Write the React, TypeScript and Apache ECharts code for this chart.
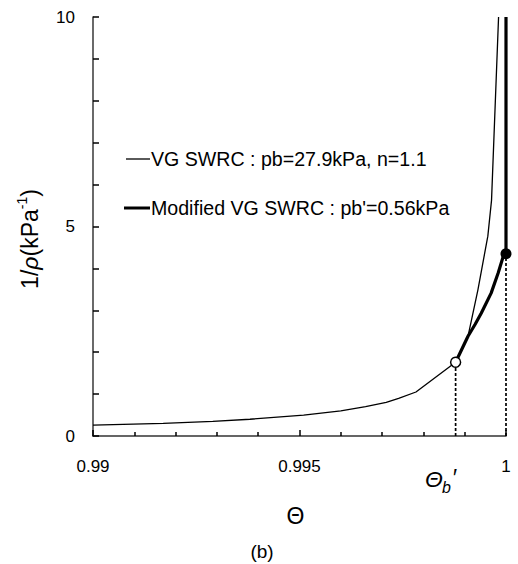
import React, { useEffect, useRef } from "react";
import * as echarts from "echarts";

// VG SWRC curve (pb = 27.9 kPa, n = 1.1): [Θ, 1/ρ]
const vgTheta = [0.99, 0.9917, 0.9929, 0.9938, 0.9951, 0.996, 0.9966, 0.9971, 0.9974, 0.99782, 0.99878, 0.99908, 0.99932, 0.99956, 0.99965, 0.99982];
const vgValue = [0.26, 0.3, 0.35, 0.4, 0.5, 0.6, 0.7, 0.8, 0.9, 1.05, 1.76, 2.38, 3.49, 4.77, 5.63, 10];

// Modified VG SWRC (pb' = 0.56 kPa)
const modTheta = [0.99878, 0.99908, 0.99925, 0.9994, 0.99964, 0.99981, 0.99995, 1.0, 1.0];
const modValue = [1.76, 2.38, 2.66, 2.93, 3.41, 3.89, 4.34, 4.35, 10];

// Key points: Θb' (open circle) and Θ = 1 (filled dot)
const thetaB = 0.99878;
const valueB = 1.76;
const thetaEnd = 1.0;
const valueEnd = 4.35;

const xTicks = { min: 0.99, max: 1, interval: 0.005 };
const yTicks = { min: 0, max: 10, interval: 5 };

const legendLabels = ["VG SWRC : pb=27.9kPa, n=1.1", "Modified VG SWRC : pb'=0.56kPa"];

const FONT = "'Liberation Sans', Arial, Helvetica, sans-serif";

export default function App() {
  const ref = useRef<HTMLDivElement>(null);

  useEffect(() => {
    if (!ref.current) return;
    const chart = echarts.init(ref.current, undefined, { renderer: "svg" });
    const vgData = vgTheta.map((t, i) => [t, vgValue[i]]);
    const modData = modTheta.map((t, i) => [t, modValue[i]]);

    chart.setOption({
      animation: false,
      grid: { left: 93, right: 12, top: 17, bottom: 128 },
      xAxis: {
        type: "value",
        min: xTicks.min,
        max: xTicks.max,
        interval: xTicks.interval,
        name: "Θ",
        nameLocation: "middle",
        nameGap: 68,
        nameTextStyle: { fontSize: 23, color: "#000", fontFamily: FONT, padding: [0, 8, 0, 0] },
        axisLine: { show: true, lineStyle: { color: "#333", width: 1.6 } },
        axisTick: { show: true, inside: true, length: 6, lineStyle: { color: "#000", width: 1.5 } },
        minorTick: { show: true, splitNumber: 5, length: 4, lineStyle: { color: "#000", width: 1.5 } },
        splitLine: { show: false },
        axisLabel: {
          fontSize: 17,
          color: "#000",
          fontFamily: FONT,
          margin: 22,
          formatter: (v: number) => String(Math.round(v * 1000) / 1000),
        },
      },
      yAxis: {
        type: "value",
        min: yTicks.min,
        max: yTicks.max,
        interval: yTicks.interval,
        axisLine: { show: true, lineStyle: { color: "#444", width: 1.6 } },
        axisTick: { show: true, inside: true, length: 6, lineStyle: { color: "#000", width: 1.5 } },
        minorTick: { show: true, splitNumber: 5, length: 6, lineStyle: { color: "#000", width: 1.5 } },
        splitLine: { show: false },
        axisLabel: { fontSize: 17, color: "#000", fontFamily: FONT, margin: 18 },
      },
      series: [
        {
          type: "line",
          data: [[thetaB, 0], [thetaB, valueB]],
          symbol: "none",
          clip: false,
          lineStyle: { color: "#000", width: 1.7, type: [3, 2] },
          z: 1,
        },
        {
          type: "line",
          data: [[thetaEnd, 0], [thetaEnd, valueEnd]],
          symbol: "none",
          clip: false,
          lineStyle: { color: "#000", width: 1.7, type: [3, 2] },
          z: 1,
        },
        {
          name: legendLabels[0],
          type: "line",
          data: vgData,
          symbol: "none",
          clip: false,
          lineStyle: { color: "#000", width: 1.3 },
          z: 2,
        },
        {
          name: legendLabels[1],
          type: "line",
          data: modData,
          symbol: "none",
          clip: false,
          lineStyle: { color: "#000", width: 3.2, cap: "butt" },
          z: 3,
        },
        {
          type: "scatter",
          clip: false,
          z: 5,
          itemStyle: { opacity: 1 },
          data: [
            { value: [thetaB, valueB], symbolSize: 10, itemStyle: { color: "#fff", borderColor: "#000", borderWidth: 1.5, opacity: 1 } },
            { value: [thetaEnd, valueEnd], symbolSize: 11, itemStyle: { color: "#000", opacity: 1 } },
          ],
        },
      ],
      graphic: [
        { type: "line", shape: { x1: 126, y1: 159, x2: 150, y2: 159 }, style: { stroke: "#000", lineWidth: 1.3 } },
        {
          type: "text",
          x: 151,
          y: 159,
          style: { text: legendLabels[0], fontSize: 19.6, fontFamily: FONT, fill: "#000", verticalAlign: "middle", align: "left" },
        },
        { type: "line", shape: { x1: 124, y1: 208, x2: 150, y2: 208 }, style: { stroke: "#000", lineWidth: 3 } },
        {
          type: "text",
          x: 151,
          y: 208,
          style: { text: legendLabels[1], fontSize: 19.6, fontFamily: FONT, fill: "#000", verticalAlign: "middle", align: "left" },
        },
        {
          type: "text",
          x: 28,
          y: 239,
          rotation: Math.PI / 2,
          style: {
            text: "{n|1/}{i|ρ}{n|(kPa}{s|-1}{n|)}",
            align: "center",
            verticalAlign: "middle",
            fill: "#000",
            rich: {
              n: { fontSize: 23, fontFamily: FONT, lineHeight: 27, verticalAlign: "bottom", fill: "#000" },
              i: { fontSize: 23, fontFamily: FONT, fontStyle: "italic", lineHeight: 27, verticalAlign: "bottom", fill: "#000" },
              s: { fontSize: 14, fontFamily: FONT, lineHeight: 14, verticalAlign: "top", fill: "#000" },
            },
          },
        },
        {
          type: "text",
          x: 434,
          y: 479,
          style: { text: "Θ", fontSize: 23, fontStyle: "italic", fontFamily: FONT, fill: "#000", align: "center", verticalAlign: "middle" },
        },
        {
          type: "text",
          x: 446.5,
          y: 487,
          style: { text: "b", fontSize: 16, fontStyle: "italic", fontFamily: FONT, fill: "#000", align: "center", verticalAlign: "middle" },
        },
        {
          type: "text",
          x: 454,
          y: 478,
          style: { text: "′", fontSize: 23, fontStyle: "italic", fontFamily: FONT, fill: "#000", align: "center", verticalAlign: "middle" },
        },
        {
          type: "text",
          x: 262,
          y: 551,
          style: { text: "(b)", fontSize: 19, fontFamily: FONT, fill: "#000", align: "center", verticalAlign: "middle" },
        },
      ],
    });

    return () => {
      chart.dispose();
    };
  }, []);

  return (
    <div
      ref={ref}
      style={{ position: "fixed", left: 0, top: 0, width: 518, height: 564, background: "#fff" }}
    />
  );
}
